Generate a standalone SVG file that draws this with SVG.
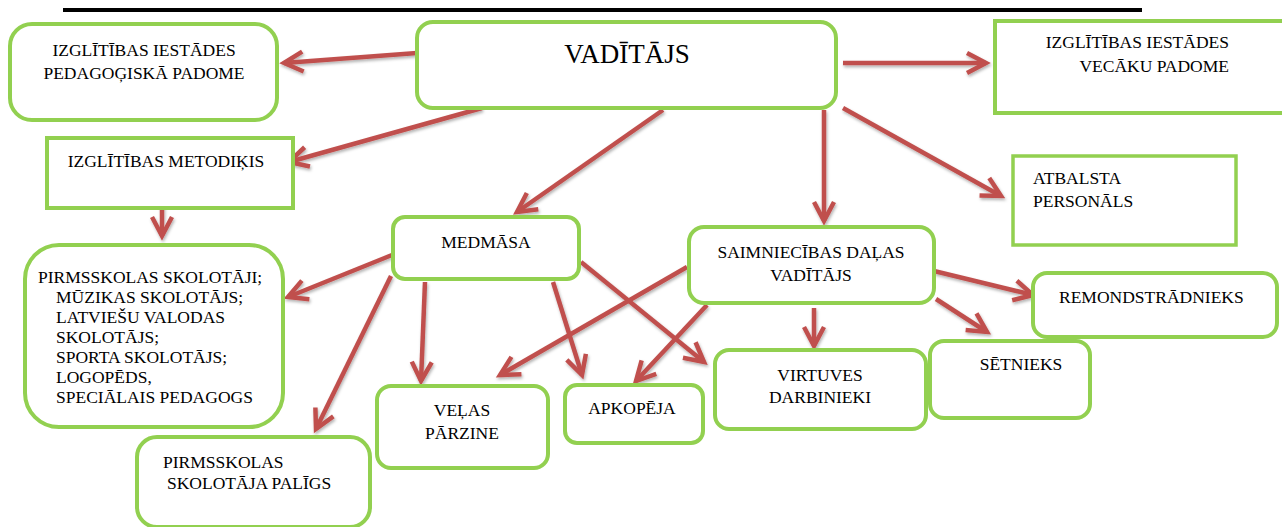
<svg xmlns="http://www.w3.org/2000/svg" width="1282" height="527" viewBox="0 0 1282 527">
<style>
.box{fill:#fff;stroke:#92d050;stroke-width:4}
.thin{stroke-width:3.5}
.t{font-family:"Liberation Serif","Times New Roman",serif;font-size:17.5px;fill:#000}
.c{text-anchor:middle}
.e{text-anchor:end}
.con line{stroke:#c0504d;stroke-width:4.5;marker-end:url(#ah)}
</style>
<defs>
<marker id="ah" markerUnits="userSpaceOnUse" markerWidth="50" markerHeight="50" refX="0" refY="0" orient="auto" overflow="visible">
<path d="M-19,-10 L0,0 L-19,10" fill="none" stroke="#c0504d" stroke-width="4.5" stroke-linejoin="miter" stroke-linecap="butt"/>
</marker>
<filter id="sh" x="-5%" y="-5%" width="110%" height="110%">
<feDropShadow dx="1" dy="2" stdDeviation="1.5" flood-color="#000" flood-opacity="0.3"/>
</filter>
</defs>
<line x1="63" y1="10" x2="1142" y2="10" stroke="#000" stroke-width="4"/>
<g id="connectors" class="con" filter="url(#sh)">
<line x1="417" y1="53" x2="284" y2="63"/>
<line x1="482" y1="108" x2="289" y2="162"/>
<line x1="843" y1="63" x2="986" y2="63"/>
<line x1="843" y1="108" x2="1001" y2="196"/>
<line x1="663" y1="110" x2="517" y2="212"/>
<line x1="824" y1="110" x2="824" y2="221"/>
<line x1="162" y1="205" x2="162" y2="236"/>
<line x1="392" y1="255" x2="288" y2="297"/>
<line x1="391" y1="276" x2="316" y2="429"/>
<line x1="425" y1="282" x2="421" y2="381"/>
<line x1="553" y1="282" x2="582" y2="375"/>
<line x1="581" y1="262" x2="704" y2="362"/>
<line x1="687" y1="267" x2="500" y2="375"/>
<line x1="707" y1="305" x2="636" y2="381"/>
<line x1="814" y1="308" x2="814" y2="346"/>
<line x1="936" y1="299" x2="987" y2="332"/>
<line x1="934" y1="271" x2="1033" y2="295"/>
</g>
<g id="n-pedagogiska">
<rect class="box" x="10" y="24" width="267" height="96" rx="22"/>
<text class="t c" x="144" y="56">IZGLĪTĪBAS IESTĀDES</text>
<text class="t c" x="144" y="79">PEDAGOĢISKĀ PADOME</text>
</g>
<g id="n-vaditajs">
<rect class="box" x="417" y="22" width="419" height="86" rx="16"/>
<text class="t c" x="627" y="63" style="font-size:27px">VADĪTĀJS</text>
</g>
<g id="n-vecaku">
<rect class="box" x="995" y="21" width="290" height="92"/>
<text class="t e" x="1229" y="48">IZGLĪTĪBAS IESTĀDES</text>
<text class="t e" x="1229" y="72">VECĀKU PADOME</text>
</g>
<g id="n-atbalsta">
<rect class="box thin" x="1013" y="156" width="223" height="89"/>
<text class="t" x="1033" y="184">ATBALSTA</text>
<text class="t" x="1033" y="207">PERSONĀLS</text>
</g>
<g id="n-metodikis">
<rect class="box" x="47" y="138" width="246" height="70"/>
<text class="t c" x="166" y="167">IZGLĪTĪBAS METODIĶIS</text>
</g>
<g id="n-pirmsskolas">
<rect class="box" x="25" y="245" width="258" height="182" rx="34"/>
<text class="t" x="38" y="283">PIRMSSKOLAS SKOLOTĀJI;</text>
<text class="t" x="56" y="303">MŪZIKAS SKOLOTĀJS;</text>
<text class="t" x="56" y="323">LATVIEŠU VALODAS</text>
<text class="t" x="56" y="343">SKOLOTĀJS;</text>
<text class="t" x="56" y="363">SPORTA SKOLOTĀJS;</text>
<text class="t" x="56" y="383">LOGOPĒDS,</text>
<text class="t" x="56" y="403">SPECIĀLAIS PEDAGOGS</text>
</g>
<g id="n-paligs">
<rect class="box" x="137" y="437" width="233" height="90" rx="20"/>
<text class="t" x="163" y="468">PIRMSSKOLAS</text>
<text class="t" x="167" y="489">SKOLOTĀJA PALĪGS</text>
</g>
<g id="n-medmasa">
<rect class="box" x="393" y="217" width="186" height="62" rx="12"/>
<text class="t c" x="486" y="248">MEDMĀSA</text>
</g>
<g id="n-velas">
<rect class="box" x="377" y="386" width="171" height="82" rx="14"/>
<text class="t c" x="462" y="416">VEĻAS</text>
<text class="t c" x="462" y="439">PĀRZINE</text>
</g>
<g id="n-apkopeja">
<rect class="box" x="565" y="385" width="138" height="58" rx="12"/>
<text class="t c" x="632" y="414">APKOPĒJA</text>
</g>
<g id="n-saimniecibas">
<rect class="box" x="689" y="227" width="245" height="76" rx="15"/>
<text class="t c" x="811" y="258">SAIMNIECĪBAS DAĻAS</text>
<text class="t c" x="811" y="281">VADĪTĀJS</text>
</g>
<g id="n-virtuves">
<rect class="box" x="715" y="350" width="211" height="79" rx="14"/>
<text class="t c" x="820" y="381">VIRTUVES</text>
<text class="t c" x="820" y="403">DARBINIEKI</text>
</g>
<g id="n-setnieks">
<rect class="box" x="930" y="341" width="160" height="77" rx="14"/>
<text class="t c" x="1021" y="370">SĒTNIEKS</text>
</g>
<g id="n-remonds">
<rect class="box" x="1033" y="273" width="244" height="64" rx="14"/>
<text class="t" x="1059" y="303">REMONDSTRĀDNIEKS</text>
</g>
</svg>
